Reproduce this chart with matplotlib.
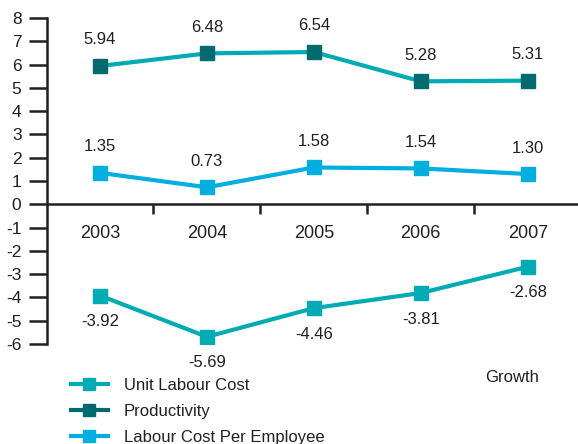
import matplotlib
matplotlib.use("Agg")
import matplotlib.pyplot as plt
from matplotlib.lines import Line2D

years = ["2003", "2004", "2005", "2006", "2007"]
productivity = [5.94, 6.48, 6.54, 5.28, 5.31]
labour_cost_per_employee = [1.35, 0.73, 1.58, 1.54, 1.30]
unit_labour_cost = [-3.92, -5.69, -4.46, -3.81, -2.68]

TEAL = "#00abb3"
DARK_TEAL = "#006a6e"
BLUE = "#00aee0"
INK = "#231f20"

plt.rcParams["font.family"] = ["Liberation Sans", "DejaVu Sans"]
plt.rcParams["axes.unicode_minus"] = False

fig = plt.figure(figsize=(5.78, 4.44), dpi=100)
ax = fig.add_axes([46.5 / 578, 100 / 444, 531.5 / 578, 326 / 444])
x = list(range(len(years)))

# lines drawn first, squares on top
ax.plot(x, productivity, color=TEAL, lw=3, zorder=3)
ax.plot(x, productivity, ls="none", marker="s", ms=10, color=DARK_TEAL, zorder=4)
ax.plot(x, labour_cost_per_employee, color=BLUE, lw=3, marker="s", ms=10, zorder=3)
ax.plot(x, unit_labour_cost, color=TEAL, lw=3, marker="s", ms=10, zorder=3)

for xi, v in zip(x, productivity):
    ax.annotate(f"{v:.2f}", (xi, v), xytext=(0, 26), textcoords="offset pixels",
                ha="center", va="center", fontsize=12, color=INK)
for xi, v in zip(x, labour_cost_per_employee):
    ax.annotate(f"{v:.2f}", (xi, v), xytext=(0, 26), textcoords="offset pixels",
                ha="center", va="center", fontsize=12, color=INK)
for xi, v in zip(x, unit_labour_cost):
    ax.annotate(f"{v:.2f}", (xi, v), xytext=(0, -26), textcoords="offset pixels",
                ha="center", va="center", fontsize=12, color=INK)

ax.set_xlim(-0.5, 4.47)
ax.set_ylim(-6, 8)
ax.set_yticks(range(-6, 9))
ax.tick_params(axis="y", direction="out", length=13, width=1.8, color=INK,
               labelsize=12.5, labelcolor=INK, pad=5)

# zero line acts as the category axis
for s in ["top", "right"]:
    ax.spines[s].set_visible(False)
ax.spines["left"].set_linewidth(1.8)
ax.spines["left"].set_color(INK)
ax.spines["bottom"].set_position(("data", 0))
ax.spines["bottom"].set_linewidth(1.8)
ax.spines["bottom"].set_color(INK)
ax.set_xticks(x)
ax.set_xticklabels(years)
ax.set_xticks([0.5, 1.5, 2.5, 3.5], minor=True)
ax.tick_params(axis="x", which="major", length=0, labelsize=13, labelcolor=INK, pad=15)
ax.tick_params(axis="x", which="minor", direction="out", length=7, width=1.8, color=INK)
ax.patch.set_visible(False)

fig.text(512 / 578, 1 - 378 / 444, "Growth", ha="center", va="center", fontsize=12, color=INK)

handles = [
    Line2D([], [], color=TEAL, lw=3, marker="s", ms=9),
    Line2D([], [], color=DARK_TEAL, lw=3, marker="s", ms=9),
    Line2D([], [], color=BLUE, lw=3, marker="s", ms=9),
]
labels = ["Unit Labour Cost", "Productivity", "Labour Cost Per Employee"]
fig.legend(handles, labels, loc="upper left", bbox_to_anchor=(71 / 578, 1 - 378 / 444),
           frameon=False, fontsize=12, handlelength=2.2, handletextpad=0.95,
           labelspacing=0.66, borderpad=0, borderaxespad=0, labelcolor=INK)

fig.savefig("out.png", dpi=100)
